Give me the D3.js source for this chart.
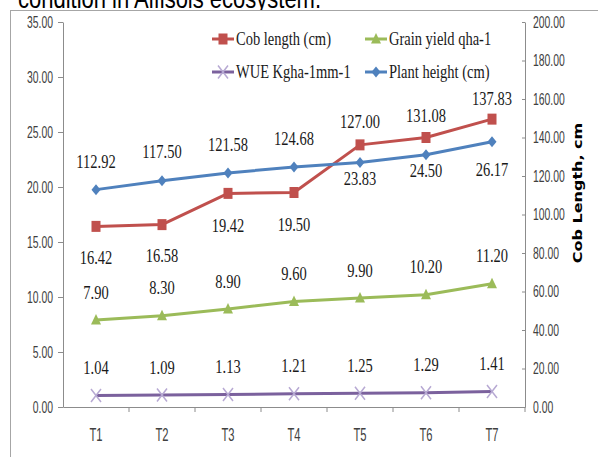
<!DOCTYPE html>
<html lang="en">
<head>
<meta charset="UTF-8">
<title>cob length chart</title>
<script src="https://d3js.org/d3.v7.min.js"></script>
<style>
  body { margin: 0; background: #fff; }
  svg { display: block; }
</style>
</head>
<body>
<svg></svg>
<script>
const categories = ['T1', 'T2', 'T3', 'T4', 'T5', 'T6', 'T7']
const cobLength = [16.42, 16.58, 19.42, 19.50, 23.83, 24.50, 26.17]
const grainYield = [7.90, 8.30, 8.90, 9.60, 9.90, 10.20, 11.20]
const wue = [1.04, 1.09, 1.13, 1.21, 1.25, 1.29, 1.41]
const plantHeight = [112.92, 117.50, 121.58, 124.68, 127.00, 131.08, 137.83]
const leftTicks = [0, 5, 10, 15, 20, 25, 30, 35]
const rightTicks = [0, 20, 40, 60, 80, 100, 120, 140, 160, 180, 200]
const legendNames = ['Cob length (cm)', 'Grain yield qha-1', 'WUE Kgha-1mm-1', 'Plant height (cm)']

// label nudges (px) for the crowded cob / plant height pair
const upperDy = [-28, -29, -28, -29, -23, -22, -21]
const lowerDy = [31, 31, 32, 32, 16, 16, 28]

const W = 598, H = 457
const svg = d3.select('svg').attr('width', W).attr('height', H)

const x = d3.scaleBand().domain(categories).range([63, 525])
const cx = d => x(d) + x.bandwidth() / 2
const yL = d3.scaleLinear().domain([0, 35]).range([407, 22])
const yR = d3.scaleLinear().domain([0, 200]).range([407, 22])

const SANS = 'Liberation Sans, Arial, sans-serif'
const SERIF = 'Liberation Serif, Times New Roman, serif'
const STRETCH = 1.28

// title (cut off at the top of the image)
svg.append('text')
  .attr('transform', `translate(18,8) scale(1,${STRETCH})`)
  .attr('font-family', SANS).attr('font-size', 22).attr('fill', '#000')
  .text('condition in Alfisols ecosystem.')

svg.append('rect')
  .attr('x', 10.5).attr('y', 10.5).attr('width', 700).attr('height', 700)
  .attr('fill', '#fff').attr('stroke', '#a6a6a6')

// axes
function styleAxis(g) {
  g.selectAll('path, line').attr('stroke', '#8c8c8c')
  g.selectAll('text').attr('fill', '#404040')
    .attr('font-family', SANS).attr('font-size', 13)
}

const gl = svg.append('g').attr('transform', 'translate(63,0)')
  .call(d3.axisLeft(yL).tickValues(leftTicks).tickFormat(d3.format('.2f')).tickSize(5).tickSizeOuter(0).tickPadding(5))
  .call(styleAxis)
gl.selectAll('.tick text').each(function () {
  const t = d3.select(this)
  t.attr('transform', `translate(${t.attr('x')},0) scale(0.8,${STRETCH})`).attr('x', 0)
})

const gr = svg.append('g').attr('transform', 'translate(525,0)')
  .call(d3.axisRight(yR).tickValues(rightTicks).tickFormat(d3.format('.2f')).tickSize(3).tickSizeOuter(0).tickPadding(5))
  .call(styleAxis)
gr.selectAll('.tick line').attr('x2', -3)
gr.selectAll('.tick text').each(function () {
  const t = d3.select(this)
  t.attr('transform', `translate(${t.attr('x')},0) scale(0.8,${STRETCH})`).attr('x', 0)
})

const gb = svg.append('g').attr('transform', 'translate(0,407)')
  .call(d3.axisBottom(x).tickSize(0).tickSizeOuter(0).tickPadding(0))
  .call(styleAxis)
gb.selectAll('.tick text')
  .attr('y', 0).attr('dy', 0)
  .attr('font-size', 14)
  .attr('transform', `translate(0,34) scale(0.8,${STRETCH})`)
gb.selectAll('.bound')
  .data(categories.slice(1).concat(['end']))
  .join('line')
  .attr('class', 'bound')
  .attr('x1', (d, i) => x(categories[0]) + x.step() * (i + 1))
  .attr('x2', (d, i) => x(categories[0]) + x.step() * (i + 1))
  .attr('y1', 0).attr('y2', 5)
  .attr('stroke', '#8c8c8c')

svg.append('text')
  .attr('transform', `translate(582,193) rotate(-90) scale(${STRETCH},1)`)
  .attr('text-anchor', 'middle')
  .attr('font-family', 'DejaVu Sans, Verdana, sans-serif').attr('font-weight', 'bold')
  .attr('font-size', 12.5).attr('fill', '#000')
  .text('Cob Length, cm')

// series
const series = [
  { name: legendNames[0], values: cobLength, y: yL, color: '#C0504D', marker: 'square' },
  { name: legendNames[1], values: grainYield, y: yL, color: '#9BBB59', marker: 'triangle' },
  { name: legendNames[2], values: wue, y: yL, color: '#7B619D', marker: 'x' },
  { name: legendNames[3], values: plantHeight, y: yR, color: '#4F81BD', marker: 'diamond' }
]

function drawMarker(g, s) {
  if (s.marker === 'square') {
    g.append('rect').attr('x', -4.5).attr('y', -5.5).attr('width', 9).attr('height', 11).attr('fill', s.color)
  } else if (s.marker === 'diamond') {
    g.append('path').attr('d', 'M0,-5.5L4.5,0L0,5.5L-4.5,0Z').attr('fill', s.color)
  } else if (s.marker === 'triangle') {
    g.append('path').attr('d', 'M0,-6L5,4.5L-5,4.5Z').attr('fill', s.color)
  } else {
    g.append('path').attr('d', 'M-5,-6.5L5,6.5M-5,6.5L5,-6.5')
      .attr('stroke', '#b7a9d3').attr('stroke-width', 1.5).attr('fill', 'none')
  }
}

const line = sc => d3.line().x((d, i) => cx(categories[i])).y(d => sc(d))

series.forEach(s => {
  svg.append('path')
    .datum(s.values)
    .attr('d', line(s.y))
    .attr('fill', 'none').attr('stroke', s.color).attr('stroke-width', 3)
    .attr('stroke-linejoin', 'round')
  s.values.forEach((v, i) => {
    const g = svg.append('g').attr('transform', `translate(${cx(categories[i])},${s.y(v)})`)
    drawMarker(g, s)
  })
})

// data labels
function dataLabel(px, py, txt) {
  svg.append('text')
    .attr('transform', `translate(${px},${py}) scale(1,${STRETCH})`)
    .attr('text-anchor', 'middle').attr('dy', '0.35em')
    .attr('font-family', SERIF).attr('font-size', 14.5).attr('fill', '#1a1a1a')
    .text(txt)
}

categories.forEach((c, i) => {
  const px = cx(c)
  const yRed = yL(cobLength[i]), yBlue = yR(plantHeight[i])
  const top = Math.min(yRed, yBlue), bottom = Math.max(yRed, yBlue)
  dataLabel(px, top + upperDy[i], plantHeight[i].toFixed(2))
  dataLabel(px, bottom + lowerDy[i], cobLength[i].toFixed(2))
  dataLabel(px, yL(grainYield[i]) - 28, grainYield[i].toFixed(2))
  dataLabel(px, yL(wue[i]) - 28, wue[i].toFixed(2))
})

// legend (2 x 2)
const legendPos = [[212, 39], [365, 39], [212, 72], [365, 72]]
series.forEach((s, i) => {
  const [lx, ly] = legendPos[i]
  const g = svg.append('g').attr('transform', `translate(${lx},${ly})`)
  g.append('line').attr('x1', 0).attr('x2', 22).attr('stroke', s.color).attr('stroke-width', 3)
  drawMarker(g.append('g').attr('transform', 'translate(11,0)'), s)
  g.append('text')
    .attr('transform', `translate(24,0) scale(1,${STRETCH})`)
    .attr('dy', '0.33em')
    .attr('font-family', SERIF).attr('font-size', 14.5).attr('fill', '#1a1a1a')
    .text(s.name)
})
</script>
</body>
</html>
